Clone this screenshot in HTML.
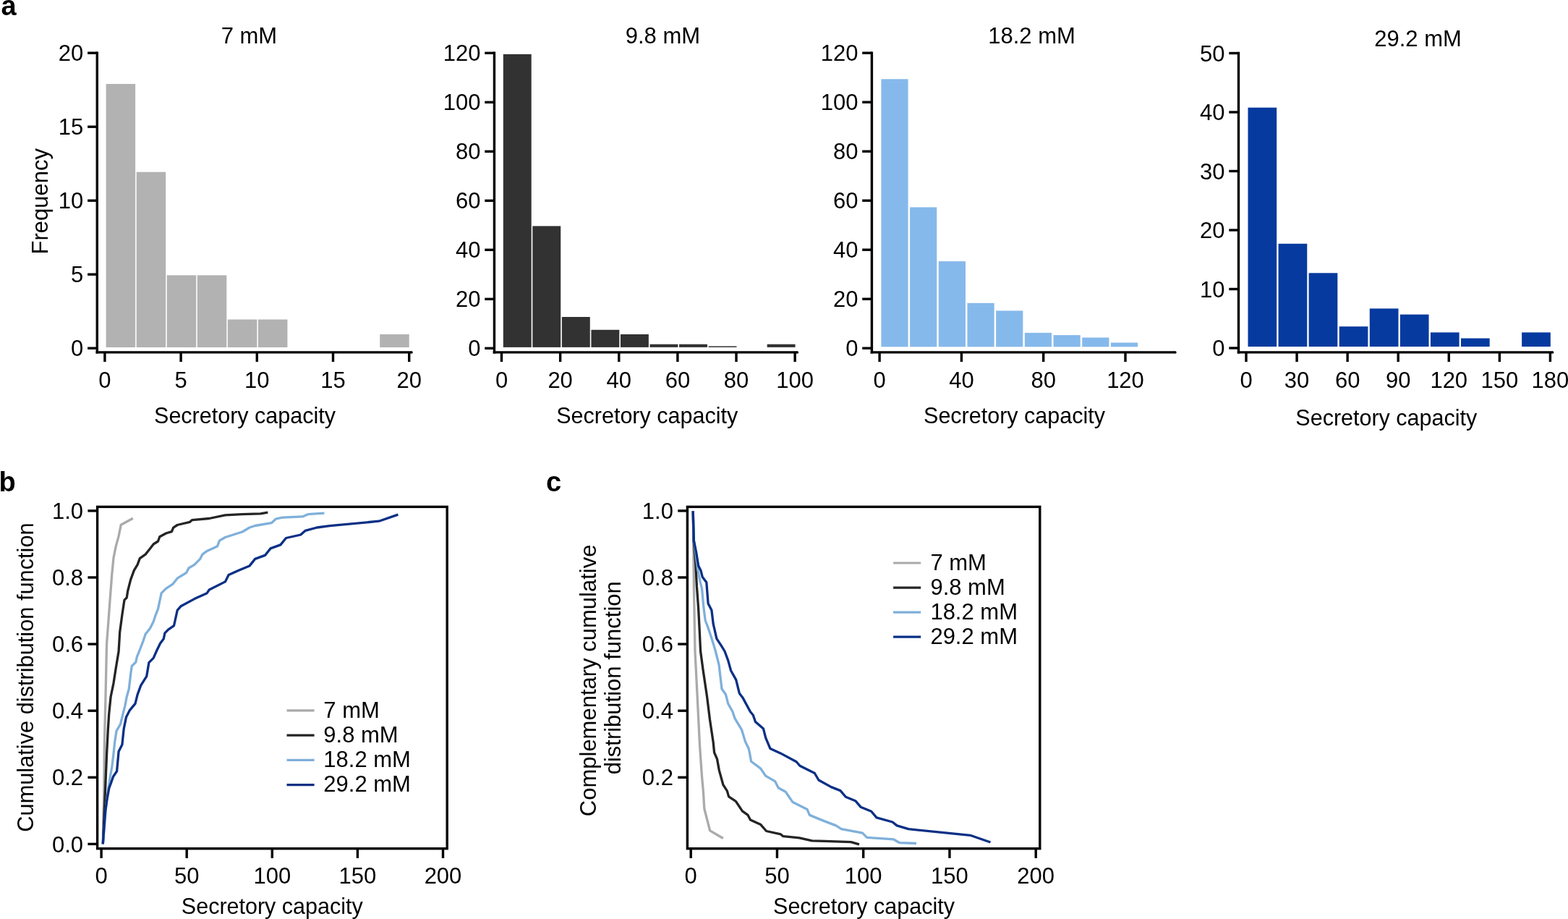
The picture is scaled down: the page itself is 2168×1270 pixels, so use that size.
<!DOCTYPE html><html><head><meta charset="utf-8"><style>html,body{margin:0;padding:0;background:#fff;overflow:hidden;width:2168px;height:1270px;}svg{display:block;}text{font-family:'Liberation Sans', Arial, Helvetica, sans-serif;fill:#000;}</style></head><body>
<svg width="2168" height="1270" viewBox="0 0 2168 1270">
<rect width="2168" height="1270" fill="#fff"/>
<text x="1.5" y="20.5" text-anchor="start" font-size="38" font-weight="bold" >a</text>
<text x="-1.5" y="679" text-anchor="start" font-size="38" font-weight="bold" >b</text>
<text x="755" y="679" text-anchor="start" font-size="38" font-weight="bold" >c</text>
<rect x="146.6" y="116" width="40.5" height="364" fill="#b2b2b2"/>
<rect x="188.67" y="237.7" width="40.5" height="242.3" fill="#b2b2b2"/>
<rect x="230.74" y="380.4" width="40.5" height="99.6" fill="#b2b2b2"/>
<rect x="272.81" y="380.4" width="40.5" height="99.6" fill="#b2b2b2"/>
<rect x="314.88" y="441.5" width="40.5" height="38.5" fill="#b2b2b2"/>
<rect x="356.95" y="441.5" width="40.5" height="38.5" fill="#b2b2b2"/>
<rect x="525.23" y="462" width="40.5" height="18" fill="#b2b2b2"/>
<line x1="134.3" y1="71.6" x2="134.3" y2="488.6" stroke="#000" stroke-width="3.4"/>
<line x1="132.6" y1="486.9" x2="569.1" y2="486.9" stroke="#000" stroke-width="3.4"/>
<circle cx="569.1" cy="486.9" r="1.7" fill="#000"/>
<line x1="121.1" y1="481.2" x2="134.3" y2="481.2" stroke="#000" stroke-width="3.4"/>
<text x="115.3" y="492.3" text-anchor="end" font-size="31" font-weight="normal" >0</text>
<line x1="121.1" y1="379.2" x2="134.3" y2="379.2" stroke="#000" stroke-width="3.4"/>
<text x="115.3" y="390.3" text-anchor="end" font-size="31" font-weight="normal" >5</text>
<line x1="121.1" y1="277.2" x2="134.3" y2="277.2" stroke="#000" stroke-width="3.4"/>
<text x="115.3" y="288.3" text-anchor="end" font-size="31" font-weight="normal" >10</text>
<line x1="121.1" y1="175.2" x2="134.3" y2="175.2" stroke="#000" stroke-width="3.4"/>
<text x="115.3" y="186.3" text-anchor="end" font-size="31" font-weight="normal" >15</text>
<line x1="121.1" y1="73.2" x2="134.3" y2="73.2" stroke="#000" stroke-width="3.4"/>
<text x="115.3" y="84.3" text-anchor="end" font-size="31" font-weight="normal" >20</text>
<line x1="144.9" y1="486.9" x2="144.9" y2="500.1" stroke="#000" stroke-width="3.4"/>
<text x="144.9" y="535.5" text-anchor="middle" font-size="31" font-weight="normal" >0</text>
<line x1="250.1" y1="486.9" x2="250.1" y2="500.1" stroke="#000" stroke-width="3.4"/>
<text x="250.1" y="535.5" text-anchor="middle" font-size="31" font-weight="normal" >5</text>
<line x1="355.3" y1="486.9" x2="355.3" y2="500.1" stroke="#000" stroke-width="3.4"/>
<text x="355.3" y="535.5" text-anchor="middle" font-size="31" font-weight="normal" >10</text>
<line x1="460.5" y1="486.9" x2="460.5" y2="500.1" stroke="#000" stroke-width="3.4"/>
<text x="460.5" y="535.5" text-anchor="middle" font-size="31" font-weight="normal" >15</text>
<line x1="565.7" y1="486.9" x2="565.7" y2="500.1" stroke="#000" stroke-width="3.4"/>
<text x="565.7" y="535.5" text-anchor="middle" font-size="31" font-weight="normal" >20</text>
<text x="344.4" y="60.1" text-anchor="middle" font-size="31" font-weight="normal" >7 mM</text>
<text x="338.5" y="584.9" text-anchor="middle" font-size="30.5" font-weight="normal" >Secretory capacity</text>
<rect x="695.8" y="74.9" width="38.9" height="405" fill="#323232"/>
<rect x="736.34" y="312.4" width="38.9" height="167.5" fill="#323232"/>
<rect x="776.88" y="438" width="38.9" height="41.9" fill="#323232"/>
<rect x="817.42" y="455.8" width="38.9" height="24.1" fill="#323232"/>
<rect x="857.96" y="462" width="38.9" height="17.9" fill="#323232"/>
<rect x="898.5" y="475.7" width="38.9" height="4.2" fill="#323232"/>
<rect x="939.04" y="475.7" width="38.9" height="4.2" fill="#323232"/>
<rect x="979.58" y="478.4" width="38.9" height="1.5" fill="#323232"/>
<rect x="1060.66" y="475.7" width="38.9" height="4.2" fill="#323232"/>
<line x1="683.45" y1="71.6" x2="683.45" y2="488.6" stroke="#000" stroke-width="3.4"/>
<line x1="681.75" y1="486.9" x2="1102.5" y2="486.9" stroke="#000" stroke-width="3.4"/>
<circle cx="1102.5" cy="486.9" r="1.7" fill="#000"/>
<line x1="670.25" y1="481.3" x2="683.45" y2="481.3" stroke="#000" stroke-width="3.4"/>
<text x="664.45" y="492.4" text-anchor="end" font-size="31" font-weight="normal" >0</text>
<line x1="670.25" y1="413.3" x2="683.45" y2="413.3" stroke="#000" stroke-width="3.4"/>
<text x="664.45" y="424.4" text-anchor="end" font-size="31" font-weight="normal" >20</text>
<line x1="670.25" y1="345.3" x2="683.45" y2="345.3" stroke="#000" stroke-width="3.4"/>
<text x="664.45" y="356.4" text-anchor="end" font-size="31" font-weight="normal" >40</text>
<line x1="670.25" y1="277.3" x2="683.45" y2="277.3" stroke="#000" stroke-width="3.4"/>
<text x="664.45" y="288.4" text-anchor="end" font-size="31" font-weight="normal" >60</text>
<line x1="670.25" y1="209.3" x2="683.45" y2="209.3" stroke="#000" stroke-width="3.4"/>
<text x="664.45" y="220.4" text-anchor="end" font-size="31" font-weight="normal" >80</text>
<line x1="670.25" y1="141.3" x2="683.45" y2="141.3" stroke="#000" stroke-width="3.4"/>
<text x="664.45" y="152.4" text-anchor="end" font-size="31" font-weight="normal" >100</text>
<line x1="670.25" y1="73.3" x2="683.45" y2="73.3" stroke="#000" stroke-width="3.4"/>
<text x="664.45" y="84.4" text-anchor="end" font-size="31" font-weight="normal" >120</text>
<line x1="693.5" y1="486.9" x2="693.5" y2="500.1" stroke="#000" stroke-width="3.4"/>
<text x="693.5" y="535.5" text-anchor="middle" font-size="31" font-weight="normal" >0</text>
<line x1="774.63" y1="486.9" x2="774.63" y2="500.1" stroke="#000" stroke-width="3.4"/>
<text x="774.63" y="535.5" text-anchor="middle" font-size="31" font-weight="normal" >20</text>
<line x1="855.76" y1="486.9" x2="855.76" y2="500.1" stroke="#000" stroke-width="3.4"/>
<text x="855.76" y="535.5" text-anchor="middle" font-size="31" font-weight="normal" >40</text>
<line x1="936.89" y1="486.9" x2="936.89" y2="500.1" stroke="#000" stroke-width="3.4"/>
<text x="936.89" y="535.5" text-anchor="middle" font-size="31" font-weight="normal" >60</text>
<line x1="1018.02" y1="486.9" x2="1018.02" y2="500.1" stroke="#000" stroke-width="3.4"/>
<text x="1018.02" y="535.5" text-anchor="middle" font-size="31" font-weight="normal" >80</text>
<line x1="1099.15" y1="486.9" x2="1099.15" y2="500.1" stroke="#000" stroke-width="3.4"/>
<text x="1099.15" y="535.5" text-anchor="middle" font-size="31" font-weight="normal" >100</text>
<text x="916.4" y="60.2" text-anchor="middle" font-size="31" font-weight="normal" >9.8 mM</text>
<text x="894.7" y="584.7" text-anchor="middle" font-size="30.5" font-weight="normal" >Secretory capacity</text>
<rect x="1218.4" y="109.3" width="37.2" height="370" fill="#86b9eb"/>
<rect x="1258.09" y="286.4" width="37.2" height="192.9" fill="#86b9eb"/>
<rect x="1297.78" y="361.1" width="37.2" height="118.2" fill="#86b9eb"/>
<rect x="1337.47" y="418.8" width="37.2" height="60.5" fill="#86b9eb"/>
<rect x="1377.16" y="429.4" width="37.2" height="49.9" fill="#86b9eb"/>
<rect x="1416.85" y="459.9" width="37.2" height="19.4" fill="#86b9eb"/>
<rect x="1456.54" y="463.1" width="37.2" height="16.2" fill="#86b9eb"/>
<rect x="1496.23" y="466.5" width="37.2" height="12.8" fill="#86b9eb"/>
<rect x="1535.92" y="473.5" width="37.2" height="5.8" fill="#86b9eb"/>
<line x1="1205.4" y1="71.6" x2="1205.4" y2="488.6" stroke="#000" stroke-width="3.4"/>
<line x1="1203.7" y1="486.9" x2="1625" y2="486.9" stroke="#000" stroke-width="3.4"/>
<circle cx="1625" cy="486.9" r="1.7" fill="#000"/>
<line x1="1192.2" y1="481.2" x2="1205.4" y2="481.2" stroke="#000" stroke-width="3.4"/>
<text x="1186.4" y="492.3" text-anchor="end" font-size="31" font-weight="normal" >0</text>
<line x1="1192.2" y1="413.2" x2="1205.4" y2="413.2" stroke="#000" stroke-width="3.4"/>
<text x="1186.4" y="424.3" text-anchor="end" font-size="31" font-weight="normal" >20</text>
<line x1="1192.2" y1="345.2" x2="1205.4" y2="345.2" stroke="#000" stroke-width="3.4"/>
<text x="1186.4" y="356.3" text-anchor="end" font-size="31" font-weight="normal" >40</text>
<line x1="1192.2" y1="277.2" x2="1205.4" y2="277.2" stroke="#000" stroke-width="3.4"/>
<text x="1186.4" y="288.3" text-anchor="end" font-size="31" font-weight="normal" >60</text>
<line x1="1192.2" y1="209.2" x2="1205.4" y2="209.2" stroke="#000" stroke-width="3.4"/>
<text x="1186.4" y="220.3" text-anchor="end" font-size="31" font-weight="normal" >80</text>
<line x1="1192.2" y1="141.2" x2="1205.4" y2="141.2" stroke="#000" stroke-width="3.4"/>
<text x="1186.4" y="152.3" text-anchor="end" font-size="31" font-weight="normal" >100</text>
<line x1="1192.2" y1="73.2" x2="1205.4" y2="73.2" stroke="#000" stroke-width="3.4"/>
<text x="1186.4" y="84.3" text-anchor="end" font-size="31" font-weight="normal" >120</text>
<line x1="1216.1" y1="486.9" x2="1216.1" y2="500.1" stroke="#000" stroke-width="3.4"/>
<text x="1216.1" y="535.5" text-anchor="middle" font-size="31" font-weight="normal" >0</text>
<line x1="1329.4" y1="486.9" x2="1329.4" y2="500.1" stroke="#000" stroke-width="3.4"/>
<text x="1329.4" y="535.5" text-anchor="middle" font-size="31" font-weight="normal" >40</text>
<line x1="1442.7" y1="486.9" x2="1442.7" y2="500.1" stroke="#000" stroke-width="3.4"/>
<text x="1442.7" y="535.5" text-anchor="middle" font-size="31" font-weight="normal" >80</text>
<line x1="1556" y1="486.9" x2="1556" y2="500.1" stroke="#000" stroke-width="3.4"/>
<text x="1556" y="535.5" text-anchor="middle" font-size="31" font-weight="normal" >120</text>
<text x="1426.5" y="60.2" text-anchor="middle" font-size="31" font-weight="normal" >18.2 mM</text>
<text x="1402.5" y="584.7" text-anchor="middle" font-size="30.5" font-weight="normal" >Secretory capacity</text>
<rect x="1725.5" y="148.7" width="39.7" height="330.3" fill="#063a9f"/>
<rect x="1767.57" y="336.8" width="39.7" height="142.2" fill="#063a9f"/>
<rect x="1809.64" y="377.3" width="39.7" height="101.7" fill="#063a9f"/>
<rect x="1851.71" y="451.2" width="39.7" height="27.8" fill="#063a9f"/>
<rect x="1893.78" y="426.4" width="39.7" height="52.6" fill="#063a9f"/>
<rect x="1935.85" y="434.6" width="39.7" height="44.4" fill="#063a9f"/>
<rect x="1977.92" y="459.4" width="39.7" height="19.6" fill="#063a9f"/>
<rect x="2019.99" y="467.5" width="39.7" height="11.5" fill="#063a9f"/>
<rect x="2104.13" y="459.4" width="39.7" height="19.6" fill="#063a9f"/>
<line x1="1712.5" y1="71.8" x2="1712.5" y2="488.6" stroke="#000" stroke-width="3.4"/>
<line x1="1710.8" y1="486.9" x2="2146.7" y2="486.9" stroke="#000" stroke-width="3.4"/>
<circle cx="2146.7" cy="486.9" r="1.7" fill="#000"/>
<line x1="1699.3" y1="481" x2="1712.5" y2="481" stroke="#000" stroke-width="3.4"/>
<text x="1693.5" y="492.1" text-anchor="end" font-size="31" font-weight="normal" >0</text>
<line x1="1699.3" y1="399.5" x2="1712.5" y2="399.5" stroke="#000" stroke-width="3.4"/>
<text x="1693.5" y="410.6" text-anchor="end" font-size="31" font-weight="normal" >10</text>
<line x1="1699.3" y1="318" x2="1712.5" y2="318" stroke="#000" stroke-width="3.4"/>
<text x="1693.5" y="329.1" text-anchor="end" font-size="31" font-weight="normal" >20</text>
<line x1="1699.3" y1="236.5" x2="1712.5" y2="236.5" stroke="#000" stroke-width="3.4"/>
<text x="1693.5" y="247.6" text-anchor="end" font-size="31" font-weight="normal" >30</text>
<line x1="1699.3" y1="155" x2="1712.5" y2="155" stroke="#000" stroke-width="3.4"/>
<text x="1693.5" y="166.1" text-anchor="end" font-size="31" font-weight="normal" >40</text>
<line x1="1699.3" y1="73.5" x2="1712.5" y2="73.5" stroke="#000" stroke-width="3.4"/>
<text x="1693.5" y="84.6" text-anchor="end" font-size="31" font-weight="normal" >50</text>
<line x1="1723" y1="486.9" x2="1723" y2="500.1" stroke="#000" stroke-width="3.4"/>
<text x="1723" y="535.5" text-anchor="middle" font-size="31" font-weight="normal" >0</text>
<line x1="1793.07" y1="486.9" x2="1793.07" y2="500.1" stroke="#000" stroke-width="3.4"/>
<text x="1793.07" y="535.5" text-anchor="middle" font-size="31" font-weight="normal" >30</text>
<line x1="1863.14" y1="486.9" x2="1863.14" y2="500.1" stroke="#000" stroke-width="3.4"/>
<text x="1863.14" y="535.5" text-anchor="middle" font-size="31" font-weight="normal" >60</text>
<line x1="1933.2" y1="486.9" x2="1933.2" y2="500.1" stroke="#000" stroke-width="3.4"/>
<text x="1933.2" y="535.5" text-anchor="middle" font-size="31" font-weight="normal" >90</text>
<line x1="2003.27" y1="486.9" x2="2003.27" y2="500.1" stroke="#000" stroke-width="3.4"/>
<text x="2003.27" y="535.5" text-anchor="middle" font-size="31" font-weight="normal" >120</text>
<line x1="2073.34" y1="486.9" x2="2073.34" y2="500.1" stroke="#000" stroke-width="3.4"/>
<text x="2073.34" y="535.5" text-anchor="middle" font-size="31" font-weight="normal" >150</text>
<line x1="2143.41" y1="486.9" x2="2143.41" y2="500.1" stroke="#000" stroke-width="3.4"/>
<text x="2143.41" y="535.5" text-anchor="middle" font-size="31" font-weight="normal" >180</text>
<text x="1960.5" y="63.6" text-anchor="middle" font-size="31" font-weight="normal" >29.2 mM</text>
<text x="1916.8" y="587.5" text-anchor="middle" font-size="30.5" font-weight="normal" >Secretory capacity</text>
<text x="0" y="0" text-anchor="middle" font-size="31" font-weight="normal" transform="translate(65.8,278.3) rotate(-90)">Frequency</text>
<path d="M142.3,1166.3 L143.2,1116.7 L143.7,1100 L144.4,1026 L146,963 L147.3,900 L147.6,889 L150,857.5 L152.3,826 L154.7,794.5 L157,770.9 L160.2,755.1 L164.1,740.9 L167.3,725.2 L183.8,716.2" fill="none" stroke="#aaaaaa" stroke-width="3.3" stroke-linejoin="round" stroke-linecap="butt"/>
<path d="M142.3,1166.3 L145.2,1100 L146.3,1073.2 L147.6,1041.7 L149.2,1010.2 L150.7,986.6 L153.1,963 L157,944.1 L160.2,923.6 L164.1,900 L165.7,873.2 L168.9,849.6 L172,829.1 L175.2,826 L176.7,816.5 L180.7,800.8 L185.4,788.2 L190.1,780.3 L193.3,771.7 L201.1,766.1 L207.4,758.3 L212.2,752 L218.5,748 L220.8,741.7 L229.5,737 L237.4,734.6 L239.7,729.1 L245.2,725.5 L262.6,721.3 L265.7,718.6 L289.3,716.5 L311.4,711.8 L335,710.7 L360.2,709.8 L370.3,708.2" fill="none" stroke="#242424" stroke-width="3.3" stroke-linejoin="round" stroke-linecap="butt"/>
<path d="M142.3,1166.3 L144.5,1140 L147,1110 L150,1089 L152.3,1073.2 L154.7,1060.6 L157,1041.7 L158.6,1026 L161,1010.2 L166.5,1000.8 L169.6,988.2 L172.8,975.6 L175.2,963 L178.3,952 L180.7,931.5 L182.2,920.5 L187.8,915 L189.3,907.9 L193.3,898 L198,885.8 L201.1,876.4 L207.4,868.5 L212.2,859 L215.3,849.6 L218.5,841.7 L220.8,830.7 L223.2,819.7 L229.5,813.4 L238.9,807.1 L245.2,799.2 L257.8,791.3 L261,785 L268.9,780.3 L276.7,772.4 L279.9,766.1 L286.2,761.4 L300.4,755.1 L303.5,747.2 L311.4,742.5 L335,735 L345.1,729 L352.7,726.5 L375.3,722.7 L381.6,717 L390.5,715.1 L418.2,713.9 L425.7,710.7 L448.4,709.1" fill="none" stroke="#7fb0da" stroke-width="3.3" stroke-linejoin="round" stroke-linecap="butt"/>
<path d="M142.3,1166.3 L144.2,1140.3 L145.6,1121.4 L147.9,1105.3 L150.8,1089.3 L153.6,1081.7 L156.5,1073.2 L161.6,1065.7 L162.1,1060 L164.1,1038.6 L168.9,1029.1 L171.2,1007.1 L174.4,991.3 L179.1,981.9 L187,972.4 L190.1,959.8 L194.8,947.2 L202.7,934.6 L205.9,915.7 L212.2,909.4 L216.5,899.5 L221.6,889 L226.3,882.7 L227.9,874.8 L232.6,870.1 L240.5,864.6 L242.1,857.5 L245.2,843.3 L250,837.8 L268.9,827.6 L286.2,819.7 L289.3,815 L311.4,803.9 L316.1,794.5 L330,788.2 L345.1,781.9 L352.7,772.4 L366.5,767.4 L374.1,757.9 L387.9,752.9 L395.5,743.5 L415.7,739 L422,733.4 L438.3,729 L456,726.7 L524,720.2 L550.4,711.1" fill="none" stroke="#0a2f85" stroke-width="3.3" stroke-linejoin="round" stroke-linecap="butt"/>
<rect x="134.6" y="700.4" width="483.6" height="472.3" fill="none" stroke="#000" stroke-width="3.4"/>
<line x1="121.4" y1="1166.4" x2="134.6" y2="1166.4" stroke="#000" stroke-width="3.4"/>
<text x="115.1" y="1177.5" text-anchor="end" font-size="31" font-weight="normal" >0.0</text>
<line x1="121.4" y1="1074.3" x2="134.6" y2="1074.3" stroke="#000" stroke-width="3.4"/>
<text x="115.1" y="1085.4" text-anchor="end" font-size="31" font-weight="normal" >0.2</text>
<line x1="121.4" y1="982.2" x2="134.6" y2="982.2" stroke="#000" stroke-width="3.4"/>
<text x="115.1" y="993.3" text-anchor="end" font-size="31" font-weight="normal" >0.4</text>
<line x1="121.4" y1="890.1" x2="134.6" y2="890.1" stroke="#000" stroke-width="3.4"/>
<text x="115.1" y="901.2" text-anchor="end" font-size="31" font-weight="normal" >0.6</text>
<line x1="121.4" y1="798" x2="134.6" y2="798" stroke="#000" stroke-width="3.4"/>
<text x="115.1" y="809.1" text-anchor="end" font-size="31" font-weight="normal" >0.8</text>
<line x1="121.4" y1="705.9" x2="134.6" y2="705.9" stroke="#000" stroke-width="3.4"/>
<text x="115.1" y="717" text-anchor="end" font-size="31" font-weight="normal" >1.0</text>
<line x1="140.1" y1="1172.7" x2="140.1" y2="1185.9" stroke="#000" stroke-width="3.4"/>
<text x="140.1" y="1221.2" text-anchor="middle" font-size="31" font-weight="normal" >0</text>
<line x1="258.2" y1="1172.7" x2="258.2" y2="1185.9" stroke="#000" stroke-width="3.4"/>
<text x="258.2" y="1221.2" text-anchor="middle" font-size="31" font-weight="normal" >50</text>
<line x1="376.3" y1="1172.7" x2="376.3" y2="1185.9" stroke="#000" stroke-width="3.4"/>
<text x="376.3" y="1221.2" text-anchor="middle" font-size="31" font-weight="normal" >100</text>
<line x1="494.4" y1="1172.7" x2="494.4" y2="1185.9" stroke="#000" stroke-width="3.4"/>
<text x="494.4" y="1221.2" text-anchor="middle" font-size="31" font-weight="normal" >150</text>
<line x1="612.5" y1="1172.7" x2="612.5" y2="1185.9" stroke="#000" stroke-width="3.4"/>
<text x="612.5" y="1221.2" text-anchor="middle" font-size="31" font-weight="normal" >200</text>
<text x="376.3" y="1263.1" text-anchor="middle" font-size="30.5" font-weight="normal" >Secretory capacity</text>
<line x1="396.5" y1="981.8" x2="434.6" y2="981.8" stroke="#aaaaaa" stroke-width="3.2"/>
<text x="447.3" y="991.6" text-anchor="start" font-size="31" font-weight="normal" >7 mM</text>
<line x1="396.5" y1="1016.07" x2="434.6" y2="1016.07" stroke="#242424" stroke-width="3.2"/>
<text x="447.3" y="1025.87" text-anchor="start" font-size="31" font-weight="normal" >9.8 mM</text>
<line x1="396.5" y1="1050.34" x2="434.6" y2="1050.34" stroke="#7fb0da" stroke-width="3.2"/>
<text x="447.3" y="1060.14" text-anchor="start" font-size="31" font-weight="normal" >18.2 mM</text>
<line x1="396.5" y1="1084.61" x2="434.6" y2="1084.61" stroke="#0a2f85" stroke-width="3.2"/>
<text x="447.3" y="1094.41" text-anchor="start" font-size="31" font-weight="normal" >29.2 mM</text>
<path d="M958.2,706.3 L958.7,747 L959.4,810 L960.2,857.5 L961,900 L964.2,963 L967.5,1030 L970.5,1073 L972.5,1095 L973.8,1117.5 L981.6,1147.9 L999.8,1158.5" fill="none" stroke="#aaaaaa" stroke-width="3.3" stroke-linejoin="round" stroke-linecap="butt"/>
<path d="M958.2,706.3 L959.1,747.2 L961.8,778.7 L963.4,810.2 L965.7,841.7 L967.3,873.2 L968.6,900 L972,925.2 L977.6,963 L981.5,994.5 L986.2,1026 L987.6,1040 L991.5,1048.9 L994.3,1064.4 L999.8,1084.3 L1005.4,1093.1 L1007.6,1100.9 L1017.5,1107.5 L1026.4,1120.8 L1034.1,1126.4 L1037.5,1133 L1051.8,1139.6 L1059.6,1148.5 L1079.5,1152.9 L1082.8,1155.7 L1105,1157.9 L1122.7,1161.8 L1140,1162.3 L1176.6,1163.6 L1188,1166.8" fill="none" stroke="#242424" stroke-width="3.3" stroke-linejoin="round" stroke-linecap="butt"/>
<path d="M958.2,706.3 L959.4,747 L965,788.2 L968.1,803.9 L970.5,813.4 L972.8,838.6 L975.2,857.5 L978.3,865.4 L983.1,879.5 L987,892.1 L989.4,900 L994.1,918.9 L998,952 L1003.5,959.8 L1006.7,972.4 L1013,983.5 L1016.1,992.9 L1025.6,1008.7 L1030.3,1024.4 L1035,1033.9 L1036.4,1040 L1038.6,1052.2 L1051.8,1062.1 L1058.5,1072.1 L1071.8,1079.9 L1076.2,1088.7 L1086.2,1094.2 L1096.1,1108.6 L1116.1,1118.6 L1119.4,1126.4 L1138.2,1134.1 L1155.9,1140.9 L1163.2,1145.7 L1192.5,1151.2 L1198.6,1157.3 L1235.2,1159.8 L1243.8,1164.7 L1267,1165.5" fill="none" stroke="#7fb0da" stroke-width="3.3" stroke-linejoin="round" stroke-linecap="butt"/>
<path d="M958.2,706.3 L959.4,747.2 L962.6,763 L965.7,781.9 L968.9,788.2 L971.3,797.6 L976.8,804.7 L979.1,833.9 L983.9,843.3 L986.2,862.2 L990.9,882.7 L997.2,892.1 L1002,900 L1006.7,912.6 L1010.6,926.8 L1017.7,939.4 L1022.4,958.3 L1027.2,964.6 L1037.4,983.5 L1041.3,988.2 L1044.5,997.6 L1055.5,1007.1 L1058.7,1019.7 L1065,1034.6 L1079.1,1040.9 L1101.2,1052.8 L1105.9,1058.3 L1126.4,1068.5 L1131.9,1078 L1149.3,1087.6 L1162,1092.6 L1169.3,1101.2 L1182.7,1106.7 L1190,1115.2 L1204.7,1121.3 L1212,1129.9 L1234,1136 L1240.1,1140.9 L1256,1145.7 L1341.4,1154.3 L1369.5,1164" fill="none" stroke="#0a2f85" stroke-width="3.3" stroke-linejoin="round" stroke-linecap="butt"/>
<rect x="950.4" y="700.4" width="487.4" height="472.3" fill="none" stroke="#000" stroke-width="3.4"/>
<line x1="937.2" y1="1074.3" x2="950.4" y2="1074.3" stroke="#000" stroke-width="3.4"/>
<text x="930.9" y="1085.4" text-anchor="end" font-size="31" font-weight="normal" >0.2</text>
<line x1="937.2" y1="982.2" x2="950.4" y2="982.2" stroke="#000" stroke-width="3.4"/>
<text x="930.9" y="993.3" text-anchor="end" font-size="31" font-weight="normal" >0.4</text>
<line x1="937.2" y1="890.1" x2="950.4" y2="890.1" stroke="#000" stroke-width="3.4"/>
<text x="930.9" y="901.2" text-anchor="end" font-size="31" font-weight="normal" >0.6</text>
<line x1="937.2" y1="798" x2="950.4" y2="798" stroke="#000" stroke-width="3.4"/>
<text x="930.9" y="809.1" text-anchor="end" font-size="31" font-weight="normal" >0.8</text>
<line x1="937.2" y1="705.9" x2="950.4" y2="705.9" stroke="#000" stroke-width="3.4"/>
<text x="930.9" y="717" text-anchor="end" font-size="31" font-weight="normal" >1.0</text>
<line x1="955.2" y1="1172.7" x2="955.2" y2="1185.9" stroke="#000" stroke-width="3.4"/>
<text x="955.2" y="1221.2" text-anchor="middle" font-size="31" font-weight="normal" >0</text>
<line x1="1074.45" y1="1172.7" x2="1074.45" y2="1185.9" stroke="#000" stroke-width="3.4"/>
<text x="1074.45" y="1221.2" text-anchor="middle" font-size="31" font-weight="normal" >50</text>
<line x1="1193.7" y1="1172.7" x2="1193.7" y2="1185.9" stroke="#000" stroke-width="3.4"/>
<text x="1193.7" y="1221.2" text-anchor="middle" font-size="31" font-weight="normal" >100</text>
<line x1="1312.95" y1="1172.7" x2="1312.95" y2="1185.9" stroke="#000" stroke-width="3.4"/>
<text x="1312.95" y="1221.2" text-anchor="middle" font-size="31" font-weight="normal" >150</text>
<line x1="1432.2" y1="1172.7" x2="1432.2" y2="1185.9" stroke="#000" stroke-width="3.4"/>
<text x="1432.2" y="1221.2" text-anchor="middle" font-size="31" font-weight="normal" >200</text>
<text x="1194.5" y="1263.1" text-anchor="middle" font-size="30.5" font-weight="normal" >Secretory capacity</text>
<line x1="1235.1" y1="778" x2="1273.2" y2="778" stroke="#aaaaaa" stroke-width="3.2"/>
<text x="1286.4" y="787.8" text-anchor="start" font-size="31" font-weight="normal" >7 mM</text>
<line x1="1235.1" y1="812.07" x2="1273.2" y2="812.07" stroke="#242424" stroke-width="3.2"/>
<text x="1286.4" y="821.87" text-anchor="start" font-size="31" font-weight="normal" >9.8 mM</text>
<line x1="1235.1" y1="846.14" x2="1273.2" y2="846.14" stroke="#7fb0da" stroke-width="3.2"/>
<text x="1286.4" y="855.94" text-anchor="start" font-size="31" font-weight="normal" >18.2 mM</text>
<line x1="1235.1" y1="880.21" x2="1273.2" y2="880.21" stroke="#0a2f85" stroke-width="3.2"/>
<text x="1286.4" y="890.01" text-anchor="start" font-size="31" font-weight="normal" >29.2 mM</text>
<text x="0" y="0" text-anchor="middle" font-size="30.75" font-weight="normal" transform="translate(46.3,936) rotate(-90)">Cumulative distribution function</text>
<text x="0" y="0" text-anchor="middle" font-size="31" font-weight="normal" transform="translate(823.7,940.4) rotate(-90)">Complementary cumulative</text>
<text x="0" y="0" text-anchor="middle" font-size="31" font-weight="normal" transform="translate(857.6,936.8) rotate(-90)">distribution function</text>
</svg></body></html>
